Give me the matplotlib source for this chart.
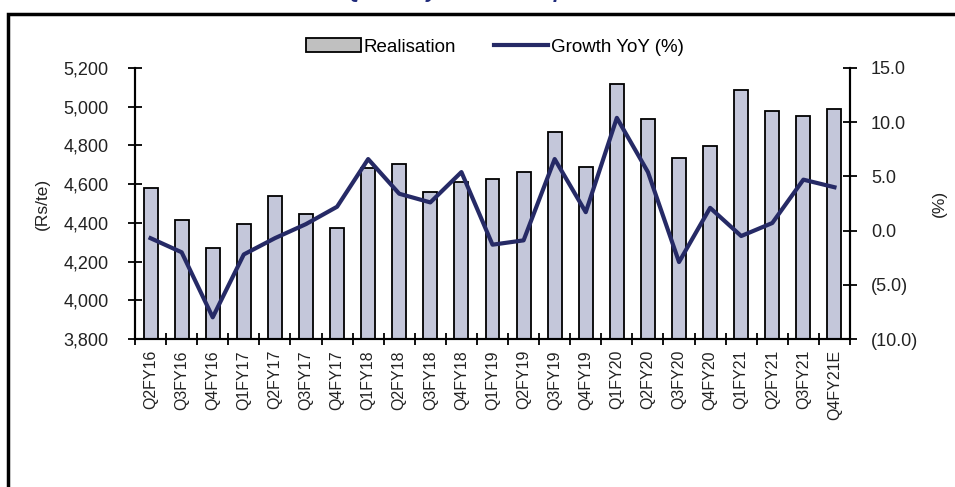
import matplotlib.pyplot as plt
from matplotlib.patches import Rectangle
from matplotlib.lines import Line2D

plt.rcParams['font.family'] = ['Liberation Sans', 'DejaVu Sans']

quarters = ["Q2FY16", "Q3FY16", "Q4FY16", "Q1FY17", "Q2FY17", "Q3FY17", "Q4FY17",
            "Q1FY18", "Q2FY18", "Q3FY18", "Q4FY18", "Q1FY19", "Q2FY19", "Q3FY19",
            "Q4FY19", "Q1FY20", "Q2FY20", "Q3FY20", "Q4FY20", "Q1FY21", "Q2FY21",
            "Q3FY21", "Q4FY21E"]
realisation = [4580, 4415, 4270, 4394, 4539, 4446, 4373,
               4683, 4704, 4559, 4611, 4627, 4663, 4869,
               4689, 5117, 4937, 4735, 4797, 5086, 4978,
               4952, 4988]
growth_yoy = [-0.7, -2.0, -8.0, -2.2, -0.7, 0.6, 2.2,
              6.6, 3.4, 2.6, 5.4, -1.3, -0.9, 6.6,
              1.7, 10.4, 5.4, -2.9, 2.1, -0.5, 0.7,
              4.7, 4.0]

left_ticks = [3800, 4000, 4200, 4400, 4600, 4800, 5000, 5200]
right_ticks = [-10, -5, 0, 5, 10, 15]

bar_color = "#c4c7da"
line_color = "#262a66"
text_color = "#222222"

fig = plt.figure(figsize=(9.55, 4.87), dpi=100)
ax = fig.add_axes([135 / 955, 1 - 339 / 487, 715 / 955, 271 / 487])
ax2 = ax.twinx()

x = list(range(len(quarters)))
ax.bar(x, realisation, width=0.45, color=bar_color, edgecolor="black",
       linewidth=1.3, zorder=2)
ax.set_ylim(3800, 5200)
ax.set_xlim(-0.5, len(quarters) - 0.5)
ax.set_yticks(left_ticks)
ax.set_yticklabels([f"{v:,}" for v in left_ticks])
ax.set_xticks(x)
ax.set_xticklabels(quarters, rotation=90)
ax.set_xticks([i + 0.5 for i in range(-1, len(quarters))], minor=True)
ax.tick_params(axis="x", which="major", length=0, pad=8, labelsize=11.5,
               labelcolor=text_color)
ax.tick_params(axis="x", which="minor", direction="inout", length=8, width=1.3)
ax.tick_params(axis="y", direction="inout", length=10, width=1.3, labelsize=13,
               pad=14, labelcolor=text_color)
ax.set_ylabel("(Rs/te)", fontsize=12.5, color=text_color, labelpad=10)

ax2.plot(x, growth_yoy, color=line_color, linewidth=3, zorder=3)
ax2.set_ylim(-10, 15)
ax2.set_yticks(right_ticks)
ax2.set_yticklabels([f"({abs(v):.1f})" if v < 0 else f"{v:.1f}" for v in right_ticks])
ax2.tick_params(axis="y", direction="inout", length=10, width=1.3, labelsize=13,
                pad=10, labelcolor=text_color)
ax2.set_ylabel("(%)", fontsize=12.5, color=text_color, rotation=90, labelpad=10)

for a in (ax, ax2):
    a.spines["top"].set_visible(False)
    a.spines["left"].set_linewidth(1.5)
    a.spines["right"].set_linewidth(1.5)
    a.spines["bottom"].set_linewidth(1.5)

handles = [Rectangle((0, 0), 1, 1, facecolor="#c0c0c0", edgecolor="black", linewidth=1.3),
           Line2D([0], [0], color=line_color, linewidth=3)]
fig.legend(handles, ["Realisation", "Growth YoY (%)"], loc="center",
           bbox_to_anchor=(495 / 955, 1 - 47 / 487), ncol=2, frameon=False,
           fontsize=13.5, handlelength=2.9, handletextpad=0.15, columnspacing=2.0)

# outer frame of the cropped exhibit
fig.patches.append(Rectangle((8 / 955, -0.1), 1.2, 1 - 14 / 487 + 0.1,
                             transform=fig.transFigure, fill=False,
                             edgecolor="black", linewidth=2.5))

# cropped title, only descenders remain visible
fig.text(0.52, 1.005, "Quarterly realisation per tonne", ha="center", va="baseline",
         fontsize=15, fontweight="bold", fontstyle="italic", color="#1f2a7a")

fig.savefig("out.png", dpi=100)
